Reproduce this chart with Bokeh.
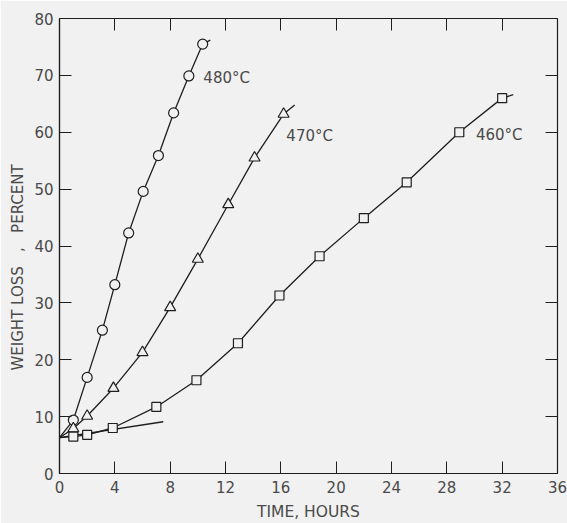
from bokeh.plotting import figure
from bokeh.models import LinearAxis, FixedTicker, Range1d, Label, Title
from bokeh.embed import file_html
from bokeh.resources import INLINE

# Weight loss (percent) versus time (hours) at three temperatures
t480 = [1, 2, 3.1, 4, 5, 6.05, 7.15, 8.25, 9.35, 10.35]
w480 = [9.4, 16.9, 25.2, 33.2, 42.3, 49.6, 55.9, 63.4, 69.9, 75.5]

t470 = [1, 2, 3.9, 6, 8, 10, 12.2, 14.1, 16.2]
w470 = [7.9, 10.1, 15.0, 21.3, 29.2, 37.7, 47.3, 55.5, 63.2]

t460 = [1, 2, 3.85, 7, 9.9, 12.9, 15.9, 18.8, 22, 25.1, 28.9, 32]
w460 = [6.5, 6.8, 8.0, 11.7, 16.4, 22.9, 31.3, 38.2, 44.9, 51.2, 60.0, 66.0]

# common starting value of the fitted curves and where each curve is drawn to
start_w = 6.3
end480 = (10.9, 76.2)
end470 = (17.0, 64.8)
end460 = (32.8, 66.6)
# initial straight-line portion of the 460 °C run
tangent_t = [0, 7.5]
tangent_w = [6.3, 9.1]

x_ticks = [0, 4, 8, 12, 16, 20, 24, 28, 32, 36]
y_ticks = [0, 10, 20, 30, 40, 50, 60, 70, 80]

BG = "#f1f1f1"
INK = "#1e1e1e"
TXT = "#4a4a4a"
FONT = "DejaVu Sans"

p = figure(width=567, height=523, output_backend="svg", toolbar_location=None,
           x_range=Range1d(0, 36), y_range=Range1d(0, 80),
           background_fill_color=BG, border_fill_color=BG,
           min_border_left=59, min_border_right=10, min_border_top=18,
           min_border_bottom=48)
p.grid.visible = False
p.outline_line_color = INK
p.outline_line_width = 1.2

for ax in (p.xaxis[0], p.yaxis[0]):
    ax.major_tick_in = 12
    ax.major_tick_out = 0
    ax.minor_tick_in = 0
    ax.minor_tick_out = 0
    ax.axis_line_color = INK
    ax.axis_line_width = 1.2
    ax.major_tick_line_color = INK
    ax.major_label_text_font = FONT
    ax.major_label_text_font_size = "15px"
    ax.major_label_text_color = TXT
    ax.axis_label_text_font = FONT
    ax.axis_label_text_font_style = "normal"
    ax.axis_label_text_color = TXT

p.xaxis.ticker = FixedTicker(ticks=x_ticks)
p.yaxis.ticker = FixedTicker(ticks=y_ticks)
p.xaxis.major_label_standoff = 7
p.yaxis.major_label_standoff = 6
p.xaxis.axis_label = "TIME, HOURS"
p.xaxis.axis_label_text_font_size = "15.5px"
p.xaxis.axis_label_standoff = 7

# inward ticks on the top and right edges of the frame
top = LinearAxis(ticker=FixedTicker(ticks=x_ticks[1:-1]), major_label_text_alpha=0,
                 major_tick_in=12, major_tick_out=0, minor_tick_in=0, minor_tick_out=0,
                 axis_line_color=None, major_tick_line_color=INK,
                 major_label_text_font_size="1px", major_label_standoff=0)
right = LinearAxis(ticker=FixedTicker(ticks=y_ticks[1:-1]), major_label_text_alpha=0,
                   major_tick_in=12, major_tick_out=0, minor_tick_in=0, minor_tick_out=0,
                   axis_line_color=None, major_tick_line_color=INK,
                   major_label_text_font_size="1px", major_label_standoff=0)
p.add_layout(top, "above")
p.add_layout(right, "right")

# vertical axis title, left of the tick labels
p.add_layout(Title(text="WEIGHT LOSS\u00a0\u00a0\u00a0,\u00a0\u00a0\u00a0PERCENT", align="left",
                   offset=103, text_font=FONT, text_font_size="15px", text_font_style="normal",
                   text_color=TXT, standoff=10), "left")

# fitted curves
p.line([0] + t480 + [end480[0]], [start_w] + w480 + [end480[1]], line_color=INK, line_width=1.3)
p.line([0] + t470 + [end470[0]], [start_w] + w470 + [end470[1]], line_color=INK, line_width=1.3)
p.line([0] + t460 + [end460[0]], [start_w] + w460 + [end460[1]], line_color=INK, line_width=1.3)
p.line(tangent_t, tangent_w, line_color=INK, line_width=1.3)

# measured points
p.scatter(t480, w480, marker="circle", size=10, fill_color=BG, line_color=INK, line_width=1.2)
p.scatter(t470, w470, marker="triangle", size=11, fill_color=BG, line_color=INK, line_width=1.2)
p.scatter(t460, w460, marker="square", size=9, fill_color=BG, line_color=INK, line_width=1.2)

# curve labels
for x, y, s in [(10.4, 69.5, "480°C"), (16.4, 59.4, "470°C"), (30.1, 59.6, "460°C")]:
    p.add_layout(Label(x=x, y=y, text=s, text_font=FONT, text_font_size="15px",
                       text_color=TXT, text_baseline="middle", text_align="left"))

open("out.html", "w").write(file_html(p, INLINE))
